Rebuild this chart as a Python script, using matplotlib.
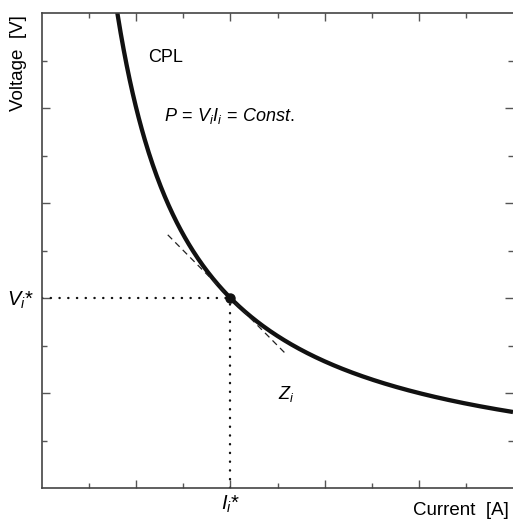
import numpy as np
import matplotlib
matplotlib.use("Agg")
import matplotlib.pyplot as plt

plt.rcParams['font.family'] = ['Liberation Sans', 'Noto Sans CJK JP', 'DejaVu Sans']
plt.rcParams['mathtext.fontset'] = 'custom'
plt.rcParams['mathtext.rm'] = 'Liberation Sans'
plt.rcParams['mathtext.it'] = 'Liberation Sans:italic'

# Data
power = 16.0                 # P = V*I constant
op_current = 4.0             # I_i*
op_voltage = power / op_current  # V_i*
tangent_range = [2.67, 5.2]
x_limits = [0, 10]
y_limits = [0, 10]
major_ticks = [2, 4, 6, 8]
minor_ticks = [1, 3, 5, 7, 9]

fig = plt.figure(figsize=(5.13, 5.20), dpi=100)
ax = fig.add_axes([42/513, 32/520, 1 - 42/513, (488 - 13)/520])

I = np.linspace(1.5, 10, 400)
V = power / I
ax.plot(I, V, color='#111111', lw=3.1, solid_capstyle='butt')

# tangent line, slope -P/I^2
slope = -power / op_current**2
It = np.array(tangent_range)
Vt = op_voltage + slope * (It - op_current)
ax.plot(It, Vt, color='#222222', lw=0.9, dashes=(5, 3.5))

# dotted guides
ax.plot([0, op_current], [op_voltage, op_voltage], color='#111111', lw=1.7,
        dashes=(0.1, 3.6), dash_capstyle='round')
ax.plot([op_current, op_current], [0, op_voltage], color='#111111', lw=1.7,
        dashes=(0.1, 3.6), dash_capstyle='round')
ax.plot([op_current], [op_voltage], 'o', color='#111111', ms=6.5)

ax.set_xlim(x_limits)
ax.set_ylim(y_limits)

ax.set_xticks(major_ticks)
ax.set_xticks(minor_ticks, minor=True)
ax.set_yticks(major_ticks)
ax.set_yticks(minor_ticks, minor=True)
ax.set_xticklabels(['', r'$I_i$*', '', ''], fontsize=14.5)
ax.set_yticklabels(['', r'$V_i$*', '', ''], fontsize=14.5)
for lbl in ax.get_xticklabels():
    lbl.set_x(lbl.get_position()[0])
ax.tick_params(which='both', direction='in', top=True, right=True, color='#555555')
ax.tick_params(which='major', length=6, width=1.0)
ax.tick_params(axis='x', which='major', pad=4)
ax.tick_params(axis='y', which='major', pad=6)
ax.tick_params(which='minor', length=3.5, width=1.0)

for s in ['left', 'bottom', 'top']:
    ax.spines[s].set_color('#444444')
    ax.spines[s].set_linewidth(1.2)
ax.spines['right'].set_visible(False)

ax.text(0.992, -0.03, 'Current  [A]', transform=ax.transAxes, ha='right', va='top', fontsize=13.5)
ax.text(-0.05, 0.995, 'Voltage  [V]', transform=ax.transAxes, ha='center', va='top',
        rotation=90, fontsize=13.5)

ax.text(2.25, 9.07, 'CPL', fontsize=13, ha='left', va='center')
ax.text(2.6, 7.83, r'$P\,=\,V_i I_i\,=\,Const.$', fontsize=13, ha='left', va='center')
ax.text(5.0, 1.97, r'$Z_i$', fontsize=13, ha='left', va='center')

fig.savefig('out.png', dpi=100)
